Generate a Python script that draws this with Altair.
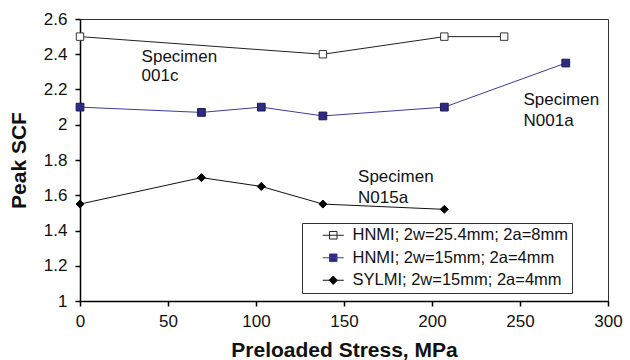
import altair as alt
import pandas as pd

series_names = ["HNMI; 2w=25.4mm; 2a=8mm", "HNMI; 2w=15mm; 2a=4mm", "SYLMI; 2w=15mm; 2a=4mm"]
s1_x = [0, 138, 207, 241]
s1_y = [2.5, 2.4, 2.5, 2.5]
s2_x = [0, 69, 103, 138, 207, 276]
s2_y = [2.1, 2.07, 2.1, 2.05, 2.1, 2.35]
s3_x = [0, 69, 103, 138, 207]
s3_y = [1.55, 1.70, 1.65, 1.55, 1.52]

ann_x = [35, 35, 252, 252, 158, 158]
ann_y = [2.357, 2.25, 2.111, 1.992, 1.676, 1.556]
ann_text = ["Specimen", "001c", "Specimen", "N001a", "Specimen", "N015a"]

x_ticks = [0, 50, 100, 150, 200, 250, 300]
y_ticks = [1, 1.2, 1.4, 1.6, 1.8, 2, 2.2, 2.4, 2.6]

FONT = "Liberation Sans"

rows = []
for name, xs, ys in zip(series_names, [s1_x, s2_x, s3_x], [s1_y, s2_y, s3_y]):
    for a, b in zip(xs, ys):
        rows.append({"series": name, "x": a, "y": b})
df = pd.DataFrame(rows)
ann = pd.DataFrame({"x": ann_x, "y": ann_y, "text": ann_text})

xs = alt.Scale(domain=[0, 300], nice=False)
ys = alt.Scale(domain=[1, 2.6], nice=False, zero=False)
xaxis = alt.Axis(values=x_ticks, title="Preloaded Stress, MPa", labelPadding=7, titlePadding=10,
                 labelOverlap=False, labelFlush=False)
yaxis = alt.Axis(values=y_ticks, format="~g", title="Peak SCF", labelPadding=8, titlePadding=14,
                 labelOverlap=False, labelFlush=False)
xenc = alt.X("x:Q", scale=xs, axis=xaxis)
yenc = alt.Y("y:Q", scale=ys, axis=yaxis)

base = alt.Chart(df).encode(x=xenc, y=yenc)

line_colors = ["#222222", "#3D3A9E", "#111111"]
pt_shapes = ["square", "square", "diamond"]
pt_fills = ["white", "#2E2C82", "black"]
pt_strokes = ["#333333", "#1C1A50", "black"]
pt_sizes = [55, 60, 64]

layers = []
for i, name in enumerate(series_names):
    sub = base.transform_filter(alt.datum.series == name)
    layers.append(sub.mark_line(color=line_colors[i], strokeWidth=1))
for i, name in enumerate(series_names):
    sub = base.transform_filter(alt.datum.series == name)
    layers.append(sub.mark_point(shape=pt_shapes[i], filled=True, fill=pt_fills[i],
                                 stroke=pt_strokes[i], strokeWidth=1, size=pt_sizes[i], opacity=1))

leg_paths = [
    "M-1.5,0H1.5M-0.54,-0.54H0.54V0.54H-0.54Z",
    "M-1.5,0H1.5M-0.54,-0.54H0.54V0.54H-0.54Z",
    "M-1.5,0H1.5M0,-0.6L0.6,0L0,0.6L-0.6,0Z",
]
leg_fill = ["white", "#2E2C82", "black"]
leg_stroke = ["#222222", "#3D3A9E", "#111111"]

lg = alt.Legend(title=None, orient="none", legendX=222, legendY=204)
legend_layer = base.transform_filter("false").mark_point(filled=True, size=196, opacity=1).encode(
    shape=alt.Shape("series:N", scale=alt.Scale(domain=series_names, range=leg_paths), legend=lg),
    fill=alt.Fill("series:N", scale=alt.Scale(domain=series_names, range=leg_fill), legend=lg),
    stroke=alt.Stroke("series:N", scale=alt.Scale(domain=series_names, range=leg_stroke), legend=lg),
)

text_layer = alt.Chart(ann).mark_text(align="left", baseline="alphabetic", font=FONT,
                                      fontSize=17, color="#111").encode(
    x=xenc, y=yenc, text="text:N")

chart = alt.layer(*layers, text_layer, legend_layer).properties(
    width=528, height=282,
    padding={"left": 80, "top": 19, "right": 22, "bottom": 59},
    autosize="none",
).configure_view(stroke="#333333", strokeWidth=1).configure_axis(
    grid=False, domainColor="black", domainWidth=1.5, tickColor="black", tickWidth=1.5,
    tickSize=5, labelFont=FONT, labelFontSize=17, labelColor="#111",
    titleFont=FONT, titleFontSize=21, titleFontWeight="bold", titleColor="#111",
    labelOverlap=False, labelFlush=False,
).configure_legend(
    labelFont=FONT, labelFontSize=16.5, labelColor="#111", strokeColor="#333", fillColor="white",
    padding=4, rowPadding=5.5, symbolOffset=19, labelOffset=11, symbolSize=196, symbolStrokeWidth=1,
    cornerRadius=0, labelLimit=0,
)

chart.save("out.html", embed_options={"renderer": "svg", "actions": False})
